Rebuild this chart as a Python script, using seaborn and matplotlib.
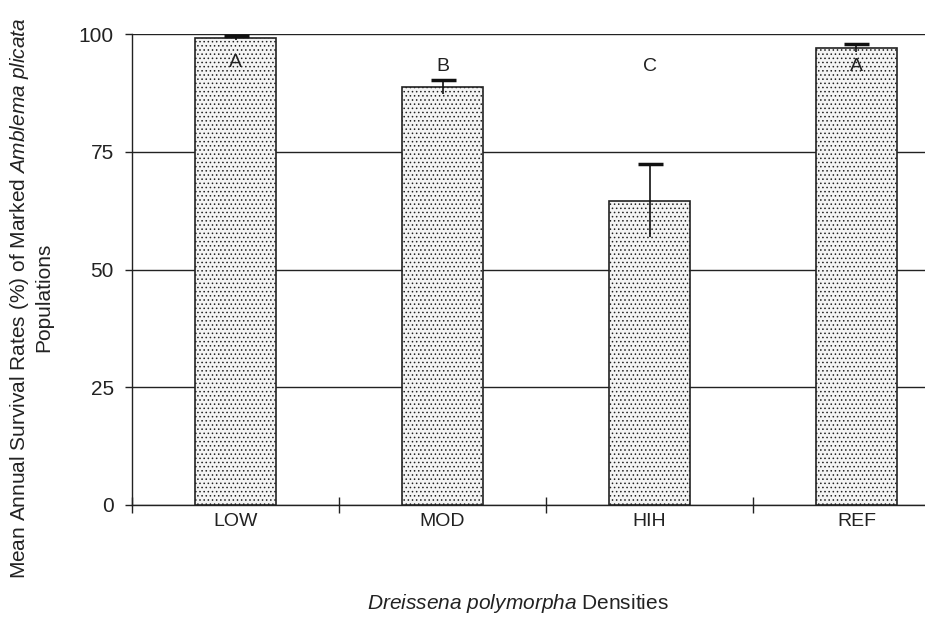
import matplotlib
matplotlib.use('Agg')
import matplotlib.pyplot as plt
import seaborn as sns
import pandas as pd

# values
categories = ['LOW', 'MOD', 'HIH', 'REF']
survival = [99.2, 88.7, 64.6, 97.0]
err = [0.4, 1.5, 7.8, 0.8]
letters = ['A', 'B', 'C', 'A']
letter_y = [94, 93, 93, 93]

sns.set_theme(style='white')
plt.rcParams['font.family'] = ['Liberation Sans', 'DejaVu Sans']
plt.rcParams['mathtext.fontset'] = 'custom'
plt.rcParams['mathtext.rm'] = 'Liberation Sans'
plt.rcParams['mathtext.it'] = 'Liberation Sans:italic'
plt.rcParams['hatch.color'] = '#8a8a8a'
plt.rcParams['hatch.linewidth'] = 0.6

df = pd.DataFrame({'density': categories, 'survival': survival})

fig = plt.figure(figsize=(9.25, 6.25), dpi=100)
ax = fig.add_axes([132 / 925, 1 - 505 / 625, (925 - 132) / 925, 471 / 625])

sns.barplot(data=df, x='density', y='survival', color='#f4f4f4', width=0.39,
            edgecolor='#222222', linewidth=1.2, hatch='....', errorbar=None, ax=ax, zorder=3)

eb = ax.errorbar(range(len(categories)), survival, yerr=err, fmt='none', ecolor='#111111',
                 elinewidth=1.2, capsize=9, capthick=2.5, zorder=4)
# only the upper cap is drawn in the original
eb[1][0].set_visible(False)

for i, (lab, yy) in enumerate(zip(letters, letter_y)):
    ax.text(i, yy, lab, ha='center', va='center', fontsize=14, color='#222222', zorder=5)

ax.set_ylim(0, 100)
ax.set_xlim(-0.5, (925 - 132) / 207 - 0.5)
ax.set_yticks([0, 25, 50, 75, 100])
ax.yaxis.grid(True, color='#222222', linewidth=1.0)
ax.set_axisbelow(True)

ax.set_xticks(range(len(categories)))
ax.set_xticklabels(categories)
ax.set_xticks([-0.5, 0.5, 1.5, 2.5], minor=True)
ax.tick_params(axis='x', which='major', length=0, pad=6, labelsize=14, colors='#222222')
ax.tick_params(axis='x', which='minor', length=12, direction='inout', width=1.0, color='#222222', bottom=True)
ax.tick_params(axis='y', length=5, width=1.0, direction='out', left=True, labelsize=15,
               colors='#222222', pad=8)

for s in ['top', 'right']:
    ax.spines[s].set_visible(False)
for s in ['left', 'bottom']:
    ax.spines[s].set_color('#222222')
    ax.spines[s].set_linewidth(1.0)

ax.set_xlabel(r'$\it{Dreissena\ polymorpha}$ Densities', fontsize=15, color='#222222')
ax.xaxis.set_label_coords(0.487, -0.185)
ax.set_ylabel('Mean Annual Survival Rates (%) of Marked $\\it{Amblema\\ plicata}$\nPopulations',
              fontsize=15, color='#222222', linespacing=1.25)
ax.yaxis.set_label_coords(-0.099, 0.44)

fig.savefig('out.png', dpi=100)
